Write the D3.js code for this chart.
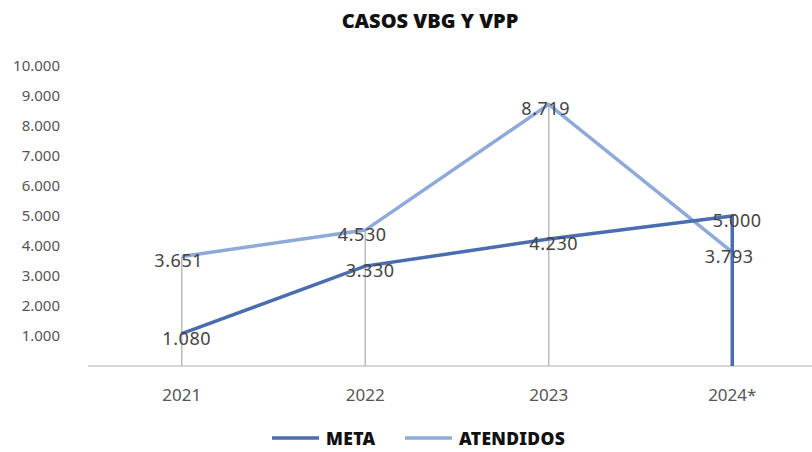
<!DOCTYPE html>
<html>
<head>
<meta charset="utf-8">
<script src="https://cdn.jsdelivr.net/npm/d3@7"></script>
<style>
  body { margin: 0; background: #fff; }
  svg { font-family: "Noto Sans", sans-serif; }
</style>
</head>
<body>
<svg id="chart" width="812" height="452"></svg>
<script>
const years = ["2021", "2022", "2023", "2024*"];
const metaValues = [1080, 3330, 4230, 5000];
const atendidosValues = [3651, 4530, 8719, 3793];
const yTicks = [1000, 2000, 3000, 4000, 5000, 6000, 7000, 8000, 9000, 10000];

const svg = d3.select("#chart");

const x = d3.scaleBand().domain(years).range([90, 824]);
const y = d3.scaleLinear().domain([0, 10000]).range([366, 66]);
const cx = d => x(d) + x.bandwidth() / 2;

const fmt = v => d3.format(",")(v).replace(/,/g, ".");

// title
svg.append("text")
    .attr("x", 430).attr("y", 28)
    .attr("text-anchor", "middle")
    .attr("font-size", 20).attr("font-weight", 900)
    .attr("fill", "#111")
    .text("CASOS VBG Y VPP");

// y axis labels (no line)
const yAxis = svg.append("g")
    .attr("transform", "translate(60,0)")
    .call(d3.axisLeft(y).tickValues(yTicks).tickFormat(fmt).tickSize(0).tickPadding(0));
yAxis.select(".domain").remove();
yAxis.selectAll("text").attr("font-size", 15).attr("fill", "#555").attr("font-family", "Noto Sans");

// baseline
svg.append("line")
    .attr("x1", 88).attr("x2", 812)
    .attr("y1", y(0)).attr("y2", y(0))
    .attr("stroke", "#c8c8c8").attr("stroke-width", 1.5);

// x axis labels
const xAxis = svg.append("g")
    .attr("transform", `translate(0,${y(0)})`)
    .call(d3.axisBottom(x).tickSize(0).tickPadding(23));
xAxis.select(".domain").remove();
xAxis.selectAll("text").attr("font-size", 17).attr("fill", "#555").attr("font-family", "Noto Sans");

// drop lines
svg.append("g").selectAll("line")
    .data(years)
    .join("line")
    .attr("x1", d => cx(d)).attr("x2", d => cx(d))
    .attr("y1", (d, i) => y(Math.max(metaValues[i], atendidosValues[i])))
    .attr("y2", y(0))
    .attr("stroke", "#bbb").attr("stroke-width", 1.5);

const metaColor = "#4a6db0";
const atColor = "#8eaad8";

const line = d3.line().x(d => cx(d.year)).y(d => y(d.v));

const atData = years.map((yr, i) => ({ year: yr, v: atendidosValues[i] }));
const metaData = years.map((yr, i) => ({ year: yr, v: metaValues[i] }));
// meta drops to zero on the last category
const metaPath = metaData.concat([{ year: years[years.length - 1], v: 0 }]);

svg.append("path").datum(atData)
    .attr("fill", "none").attr("stroke", atColor).attr("stroke-width", 3.5)
    .attr("d", line);

svg.append("path").datum(metaPath)
    .attr("fill", "none").attr("stroke", metaColor).attr("stroke-width", 3.5)
    .attr("d", line);

// data labels
const labels = svg.append("g")
    .attr("font-size", 18).attr("fill", "#444").attr("text-anchor", "middle")
    .attr("letter-spacing", 0.6);
labels.selectAll(".lab-at").data(atData).join("text")
    .attr("x", d => cx(d.year) - 3).attr("y", d => y(d.v) + 11)
    .text(d => fmt(d.v));
labels.selectAll(".lab-meta").data(metaData).join("text")
    .attr("x", d => cx(d.year) + 5).attr("y", d => y(d.v) + 11)
    .text(d => fmt(d.v));

// legend
const legend = svg.append("g").attr("transform", "translate(0,438)");
const items = [
    { name: "META", color: metaColor, x: 272 },
    { name: "ATENDIDOS", color: atColor, x: 405 }
];
items.forEach(it => {
    legend.append("line")
        .attr("x1", it.x).attr("x2", it.x + 47)
        .attr("stroke", it.color).attr("stroke-width", 3.5);
    legend.append("text")
        .attr("x", it.x + 54).attr("y", 6.5)
        .attr("font-size", 17.5).attr("font-weight", 900).attr("fill", "#111")
        .attr("letter-spacing", 0.3)
        .text(it.name);
});
</script>
</body>
</html>
